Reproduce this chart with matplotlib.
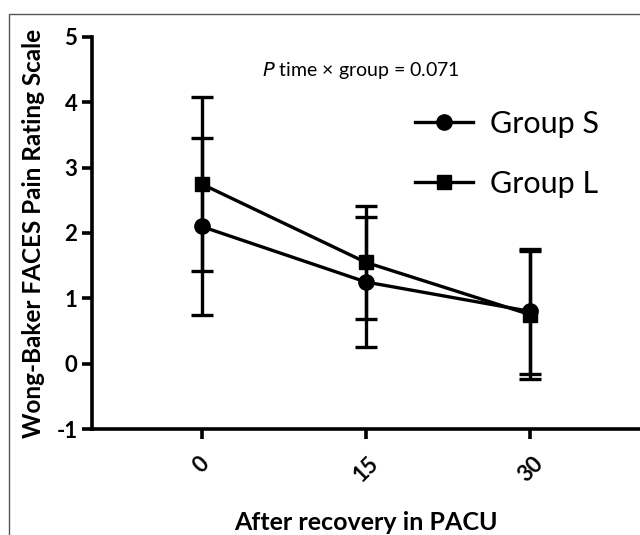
import matplotlib
matplotlib.use("Agg")
import matplotlib.pyplot as plt
from matplotlib.patches import Rectangle
from matplotlib.lines import Line2D

plt.rcParams['font.family'] = ['Lato', 'DejaVu Sans']
plt.rcParams['axes.unicode_minus'] = False

# minutes after recovery in PACU
times = [0, 15, 30]
tick_labels = ['0', '15', '30']

group_s_mean = [2.10, 1.25, 0.80]
group_s_sd = [1.35, 1.00, 0.95]
group_l_mean = [2.75, 1.55, 0.75]
group_l_sd = [1.33, 0.86, 0.98]

fig = plt.figure(figsize=(6.4, 5.35), dpi=100)
ax = fig.add_axes([0.1437, 0.198, 0.8563, 0.733])

# thin grey frame around the panel
fig.patches.append(Rectangle((9 / 640, -0.01), 1.0, 1 - 14 / 535 + 0.01,
                             transform=fig.transFigure, fill=False,
                             edgecolor='#555555', linewidth=1.0))

lw = 2.4
ax.errorbar(times, group_s_mean, yerr=group_s_sd, color='black', lw=lw,
            marker='o', markersize=11, capsize=8, capthick=lw, elinewidth=lw,
            clip_on=False)
ax.errorbar(times, group_l_mean, yerr=group_l_sd, color='black', lw=lw,
            marker='s', markersize=10, capsize=8, capthick=lw, elinewidth=lw,
            clip_on=False)

ax.set_xlim(-10, 40)
ax.set_ylim(-1, 5)
ax.set_yticks(range(-1, 6))
ax.set_xticks(times)
ax.set_xticklabels(tick_labels, rotation=45, ha='center')

for side in ['top', 'right']:
    ax.spines[side].set_visible(False)
for side in ['left', 'bottom']:
    ax.spines[side].set_linewidth(2.6)
ax.tick_params(width=2.6, length=7, labelsize=16)
for lab in ax.get_xticklabels() + ax.get_yticklabels():
    lab.set_fontweight('bold')
ax.tick_params(axis='x', pad=10)

ax.set_ylabel('Wong-Baker FACES Pain Rating Scale', fontsize=17.5,
              fontweight='bold', labelpad=8)
ax.set_xlabel('After recovery in PACU', fontsize=18, fontweight='bold',
              labelpad=18)

ax.text(170 / 548, 0.915, r'$\it{P}$ time × group = 0.071', transform=ax.transAxes,
        fontsize=14, ha='left', va='center')

handles = [Line2D([], [], color='black', lw=lw, marker='o', markersize=11),
           Line2D([], [], color='black', lw=lw, marker='s', markersize=10)]
ax.legend(handles, ['Group S', 'Group L'], loc='upper left',
          bbox_to_anchor=(0.54, 0.885), frameon=False, fontsize=22,
          handlelength=1.9, handletextpad=0.55, labelspacing=1.05)

fig.savefig('out.png', dpi=100)
